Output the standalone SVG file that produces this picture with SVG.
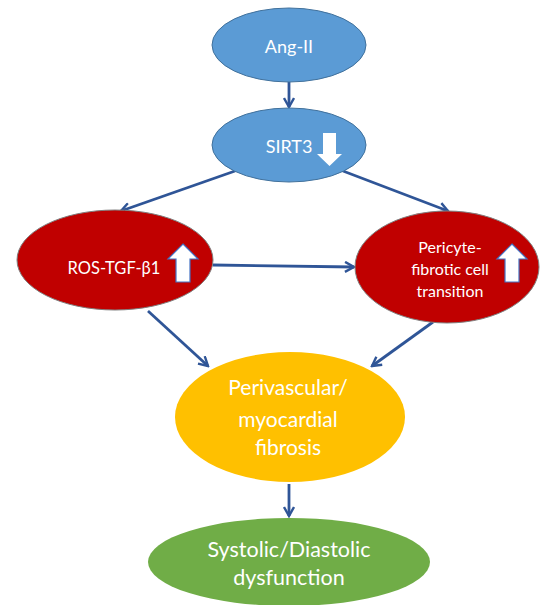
<svg xmlns="http://www.w3.org/2000/svg" width="541" height="605" viewBox="0 0 541 605">
<defs>
<marker id="ah" viewBox="0 0 12 12" refX="10" refY="6" markerWidth="12" markerHeight="12" markerUnits="userSpaceOnUse" orient="auto">
<path d="M1,1 L10,6 L1,11" fill="none" stroke="#2F5597" stroke-width="2.4"/>
</marker>
<g id="up"><path d="M0,-19 L15,-4 L7,-4 L7,19 L-7,19 L-7,-4 L-15,-4 Z" fill="#fff" stroke="#4472C4" stroke-width="1.2"/></g>
</defs>
<style>
.t{font-family:Lato,"Open Sans",sans-serif;fill:#fff;text-anchor:middle}
.c{stroke:#2F5597;stroke-width:2.8;fill:none;marker-end:url(#ah)}
</style>
<rect width="541" height="605" fill="#fff"/>
<g id="connectors">
<line class="c" x1="289" y1="82" x2="289" y2="107"/>
<line class="c" x1="235" y1="171" x2="121" y2="211"/>
<line class="c" x1="343" y1="171" x2="448" y2="211"/>
<line class="c" x1="213" y1="265" x2="354" y2="267"/>
<line class="c" x1="148" y1="311" x2="208" y2="366"/>
<line class="c" x1="433" y1="322" x2="372" y2="366"/>
<line class="c" x1="289" y1="484" x2="289" y2="516"/>
</g>
<g id="angii">
<ellipse cx="289" cy="45" rx="77" ry="37" fill="#5B9BD5" stroke="#41719C" stroke-width="1"/>
<text class="t" x="289" y="53" font-size="18">Ang-II</text>
</g>
<g id="sirt3">
<ellipse cx="289" cy="145" rx="77" ry="37" fill="#5B9BD5" stroke="#41719C" stroke-width="1"/>
<text class="t" x="289" y="153" font-size="18">SIRT3</text>
<path d="M323,133 L336,133 L336,154 L342,154 L329.5,166 L317,154 L323,154 Z" fill="#fff"/>
</g>
<g id="ros">
<ellipse cx="115" cy="260" rx="98" ry="50" fill="#C00000" stroke="#7F7F7F" stroke-width="1"/>
<text class="t" x="114" y="274" font-size="16.5">ROS-TGF-β1</text>
<use href="#up" x="183" y="263"/>
</g>
<g id="pericyte">
<ellipse cx="447" cy="267" rx="92" ry="56" fill="#C00000" stroke="#7F7F7F" stroke-width="1"/>
<text class="t" font-size="16"><tspan x="450" y="253">Pericyte-</tspan><tspan x="450" y="275">fibrotic cell</tspan><tspan x="450" y="297">transition</tspan></text>
<use href="#up" x="512" y="263"/>
</g>
<g id="fibrosis">
<ellipse cx="290" cy="417" rx="115" ry="65" fill="#FFC000"/>
<text class="t" font-size="21"><tspan x="288" y="395">Perivascular/</tspan><tspan x="288" y="427">myocardial</tspan><tspan x="288" y="455">fibrosis</tspan></text>
</g>
<g id="dysfunction">
<ellipse cx="289" cy="562" rx="141" ry="44" fill="#70AD47"/>
<text class="t" font-size="21.5"><tspan x="289" y="557">Systolic/Diastolic</tspan><tspan x="289" y="585">dysfunction</tspan></text>
</g>
</svg>
